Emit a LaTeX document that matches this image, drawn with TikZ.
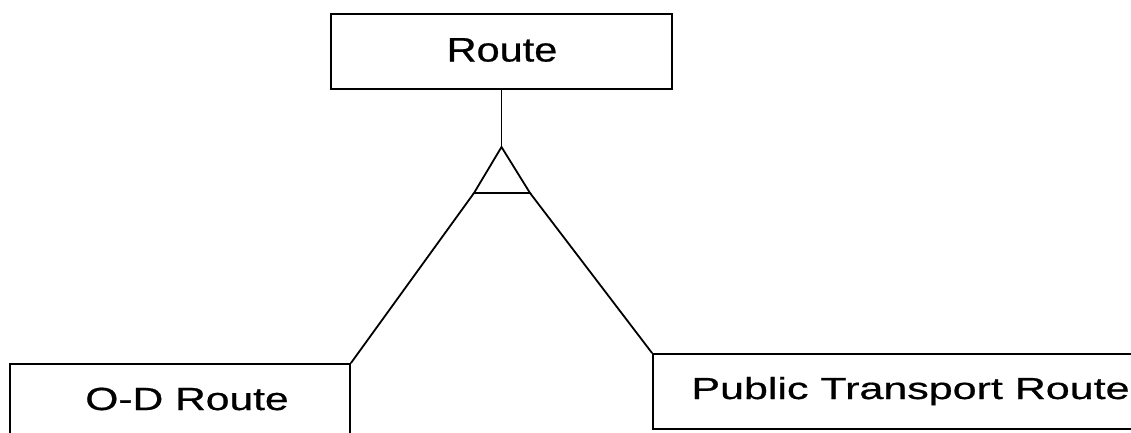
\documentclass[tikz,border=0pt]{standalone}
\usepackage{fontspec}
\setmainfont{Liberation Sans}
\newfontfamily\lblfont[FakeBold=0.6]{Liberation Sans}
\begin{document}
\begin{tikzpicture}[x=1pt,y=-1pt,
  line/.style={line width=1.8pt, black},
  box/.style={draw, line width=1.8pt, rectangle, inner sep=0pt},
  lbl/.style={anchor=base, inner sep=0pt, font=\lblfont}]
\useasboundingbox (0,0) rectangle (1131,432);
\clip (0,0) rectangle (1131,432);

% entity boxes
\node[box, minimum width=341pt, minimum height=75pt] (route) at (501.5,51.5) {};
\node[box, minimum width=340pt, minimum height=90pt] (od) at (180,409) {};
\node[box, minimum width=517pt, minimum height=75pt] (pt) at (911.5,391.5) {};

% labels
\node[lbl] (routelbl) at (502,61.5) {\fontsize{34}{40}\selectfont\scalebox{1.22}[1]{Route}};
\node[lbl] (odlbl) at (187,410) {\fontsize{32}{38}\selectfont\scalebox{1.33}[1]{O-D Route}};
\node[lbl] (ptlbl) at (910.5,399) {\fontsize{30.5}{36}\selectfont\scalebox{1.41}[1]{Public Transport Route}};

% generalisation triangle
\coordinate (apex) at (501.5,147);
\coordinate (bl) at (474,193);
\coordinate (br) at (530,193);
\draw[line] (route.south) -- (apex);
\draw[line, line join=miter] (apex) -- (bl) -- (br) -- cycle;

% branches to the specialised entities
\draw[line] (bl) -- (od.north east);
\draw[line] (br) -- (pt.north west);
\end{tikzpicture}
\end{document}
